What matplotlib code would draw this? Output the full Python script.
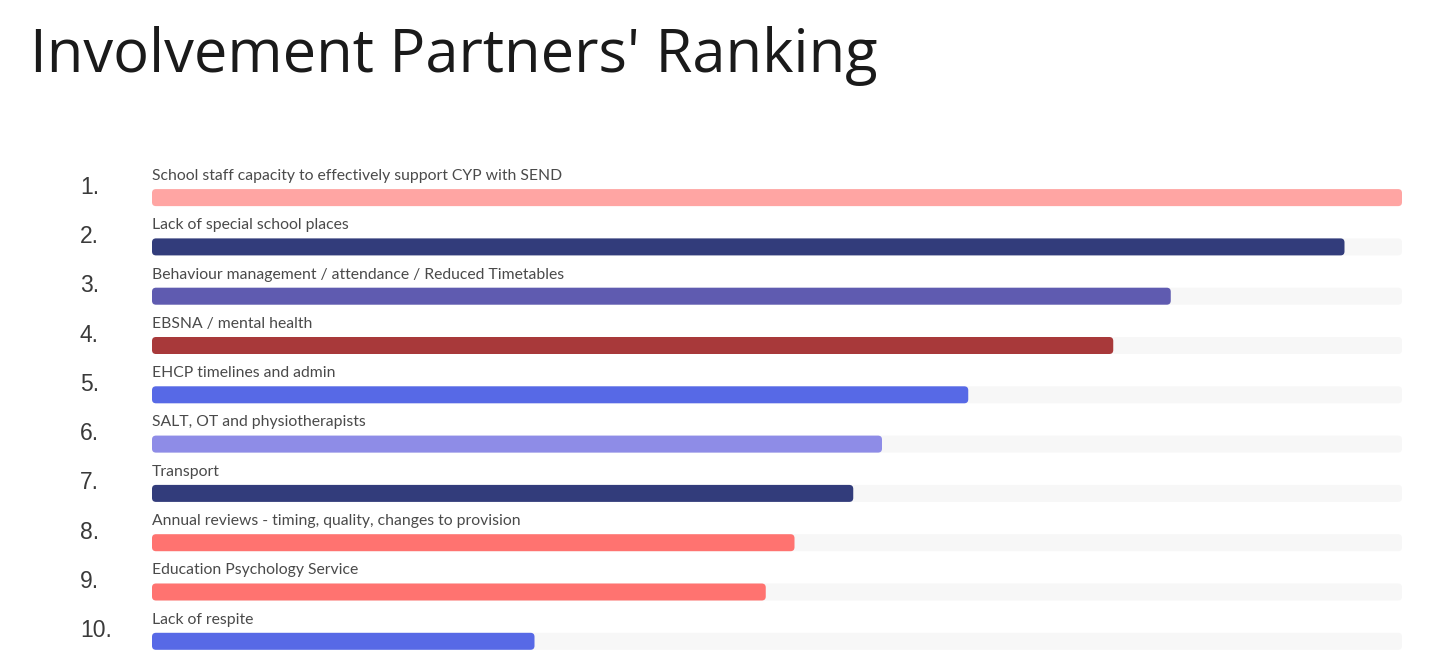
import matplotlib
matplotlib.use('Agg')
import matplotlib.pyplot as plt
from matplotlib.patches import FancyBboxPatch
import matplotlib.transforms as mtransforms

# ---------------- data ----------------
title = "Involvement Partners' Ranking"
ranks = ['1.', '2.', '3.', '4.', '5.', '6.', '7.', '8.', '9.', '10.']
categories = [
    "School staff capacity to effectively support CYP with SEND",
    "Lack of special school places",
    "Behaviour management / attendance / Reduced Timetables",
    "EBSNA / mental health",
    "EHCP timelines and admin",
    "SALT, OT and physiotherapists",
    "Transport",
    "Annual reviews - timing, quality, changes to provision",
    "Education Psychology Service",
    "Lack of respite",
]
scores = [10.0, 9.54, 8.15, 7.69, 6.53, 5.84, 5.61, 5.14, 4.91, 3.06]
colors = ['#FFA5A3', '#323C7B', '#5F5BB0', '#A8393A', '#5769E6',
          '#8E8CE7', '#323C7B', '#FF7370', '#FF7370', '#5769E6']

# ---------------- layout ----------------
W, H = 1440, 672
fig = plt.figure(figsize=(W / 100, H / 100), dpi=100)
fig.patch.set_facecolor('white')

x0, x1 = 152, 1402
pitch = 49.3
c0 = 197.6
top = c0 - 0.8 * pitch
bottom = c0 + 9.5 * pitch
ax = fig.add_axes([x0 / W, 1 - bottom / H, (x1 - x0) / W, (bottom - top) / H])
vmax = max(scores)
ax.set_xlim(0, vmax)
ax.set_ylim(9.5, -0.8)
ax.axis('off')

bar_h = 17 / pitch
xu_per_px = vmax / (x1 - x0)
yu_per_px = 1 / pitch
r = 4 * xu_per_px
aspect = yu_per_px / xu_per_px
style = f"round,pad=0,rounding_size={r}"

label_font = 'Lato'
labels = []
for i, (cat, s, col) in enumerate(zip(categories, scores, colors)):
    track = FancyBboxPatch((0, i - bar_h / 2), vmax, bar_h, boxstyle=style,
                           mutation_aspect=aspect, fc='#F7F7F7', ec='none', zorder=1)
    ax.add_patch(track)
    bar = FancyBboxPatch((0, i - bar_h / 2), s, bar_h, boxstyle=style,
                         mutation_aspect=aspect, fc=col, ec='none', zorder=2)
    ax.add_patch(bar)
    t = ax.text(0, i - 0.357, cat, va='baseline', ha='left', fontsize=11.5,
                family=label_font, color='#4a4a4a', zorder=3)
    labels.append(t)

trans = mtransforms.blended_transform_factory(ax.transAxes, ax.transData)
for i, rk in enumerate(ranks):
    ax.text((80 - x0) / (x1 - x0), i - 0.08, rk, transform=trans, va='baseline',
            ha='left', fontsize=16.5, family='Liberation Sans', color='#3a3a3a',
            clip_on=False)

ttl = fig.text(30 / W, 1 - 71.7 / H, title, fontsize=45, family='Open Sans',
               color='#1a1a1a', va='baseline', ha='left')

# fit text widths to the reference
fig.canvas.draw()
rend = fig.canvas.get_renderer()
bw = ttl.get_window_extent(rend).width
ttl.set_fontsize(45 * 848 / bw)
lw = labels[0].get_window_extent(rend).width
fs = 11.5 * 410 / lw
for t in labels:
    t.set_fontsize(fs)

fig.savefig('out.png', dpi=100, facecolor='white')
